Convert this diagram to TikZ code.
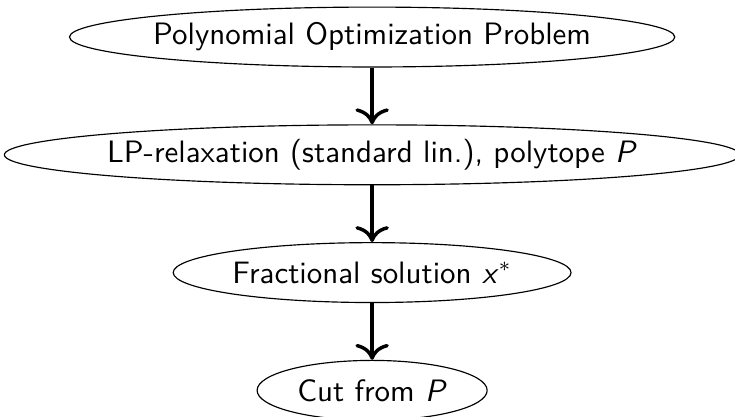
\documentclass[tikz,border=0pt]{standalone}
\usetikzlibrary{shapes.geometric,positioning,arrows.meta}
\renewcommand{\familydefault}{\sfdefault}

\tikzset{
  stage/.style={draw, ellipse, inner xsep=-1.7pt, inner ysep=0pt,
    minimum height=20.7pt, font=\fontsize{10.7pt}{13pt}\selectfont},
  flow/.style={-{To[scale=1.3]}, very thick}
}

\begin{document}
\begin{tikzpicture}[node distance=19.6pt]
\useasboundingbox (-128.6pt,12.8pt) rectangle (125.4pt,-131.3pt);

\node[stage] (pop) at (0,0) {Polynomial Optimization Problem};
\node[stage, below=of pop] (lp) {LP-relaxation (standard lin.), polytope \textsl{P}};
\node[stage, below=of lp, minimum width=137.5pt] (frac) {Fractional solution \textsl{x}$^*$};
\node[stage, below=of frac, minimum width=79.5pt] (cut) {Cut from \textsl{P}};

\draw[flow] (pop) -- (lp);
\draw[flow] (lp) -- (frac);
\draw[flow] (frac) -- (cut);
\end{tikzpicture}
\end{document}
